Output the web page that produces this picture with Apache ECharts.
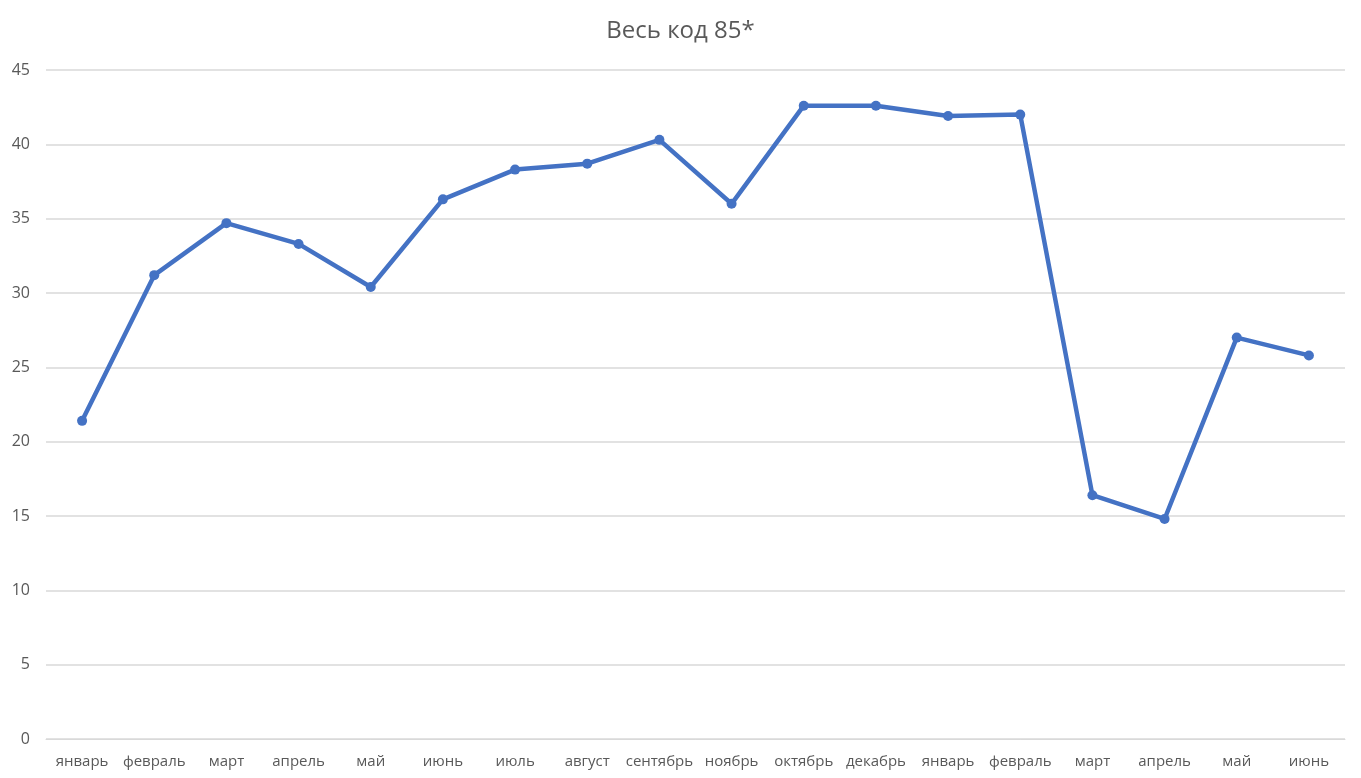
<!DOCTYPE html>
<html>
<head>
<meta charset="utf-8">
<script src="https://cdn.jsdelivr.net/npm/echarts@6/dist/echarts.min.js"></script>
<style>
  html, body { margin: 0; padding: 0; background: #fff; }
  #chart { width: 1361px; height: 778px; }
</style>
</head>
<body>
<div id="chart"></div>
<script>
const months = ['январь', 'февраль', 'март', 'апрель', 'май', 'июнь', 'июль', 'август', 'сентябрь',
  'ноябрь', 'октябрь', 'декабрь', 'январь', 'февраль', 'март', 'апрель', 'май', 'июнь'];
const values = [21.4, 31.2, 34.7, 33.3, 30.4, 36.3, 38.3, 38.7, 40.3,
  36.0, 42.6, 42.6, 41.9, 42.0, 16.4, 14.8, 27.0, 25.8];

const chart = echarts.init(document.getElementById('chart'));
const font = '"Open Sans", "Noto Sans", sans-serif';

chart.setOption({
  animation: false,
  title: {
    text: 'Весь код 85*',
    left: 'center',
    top: 14,
    textStyle: { fontFamily: font, fontSize: 24, fontWeight: 'normal', color: '#595959' },
  },
  grid: { left: 46, right: 16, top: 70, bottom: 39 },
  xAxis: {
    type: 'category',
    data: months,
    boundaryGap: true,
    axisLine: { lineStyle: { color: '#d9d9d9' } },
    axisTick: { show: false },
    axisLabel: { color: '#595959', fontFamily: font, fontSize: 15, margin: 15, interval: 0 },
  },
  yAxis: {
    type: 'value',
    min: 0,
    max: 45,
    interval: 5,
    axisLine: { show: false },
    axisTick: { show: false },
    axisLabel: { color: '#595959', fontFamily: font, fontSize: 16, margin: 16 },
    splitLine: { lineStyle: { color: '#d9d9d9', width: 1.5 } },
  },
  series: [
    {
      type: 'line',
      data: values,
      symbol: 'circle',
      symbolSize: 10,
      lineStyle: { color: '#4472C4', width: 4.5 },
      itemStyle: { color: '#4472C4' },
    },
  ],
});
</script>
</body>
</html>
